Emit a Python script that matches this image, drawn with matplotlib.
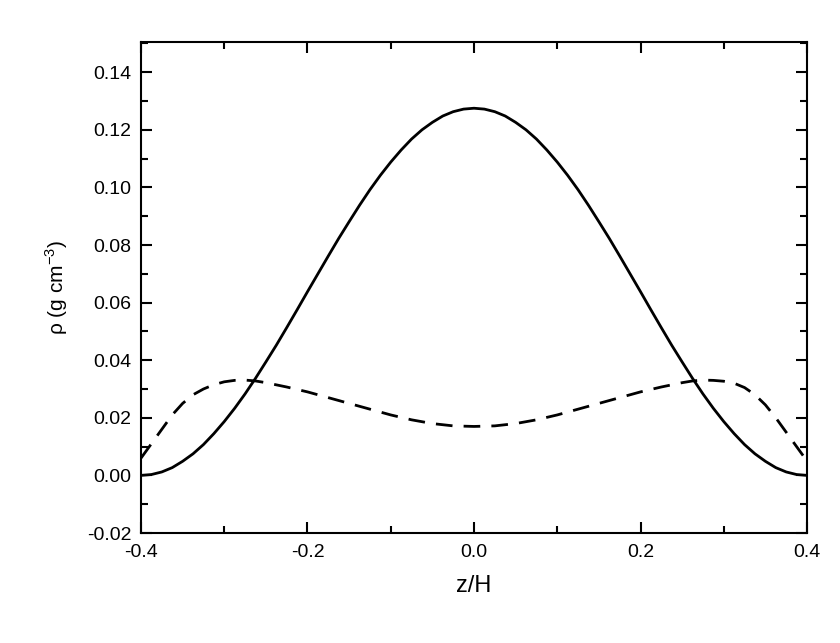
import matplotlib
matplotlib.use("Agg")
import matplotlib.pyplot as plt
from matplotlib.ticker import MultipleLocator

plt.rcParams['font.family'] = ['Liberation Sans', 'DejaVu Sans']

z_solid = [-0.4, -0.3875, -0.375, -0.3625, -0.35, -0.3375, -0.325, -0.3125, -0.3, -0.2875, -0.275, -0.2625,
           -0.25, -0.2375, -0.225, -0.2125, -0.2, -0.1875, -0.175, -0.1625, -0.15, -0.1375, -0.125, -0.1125,
           -0.1, -0.0875, -0.075, -0.0625, -0.05, -0.0375, -0.025, -0.0125,
           0.0, 0.0125, 0.025, 0.0375, 0.05, 0.0625, 0.075, 0.0875, 0.1, 0.1125, 0.125, 0.1375,
           0.15, 0.1625, 0.175, 0.1875, 0.2, 0.2125, 0.225, 0.2375, 0.25, 0.2625, 0.275, 0.2875,
           0.3, 0.3125, 0.325, 0.3375, 0.35, 0.3625, 0.375, 0.3875, 0.4]
rho_solid = [0.0000, 0.0003, 0.0012, 0.0027, 0.0049, 0.0075, 0.0107, 0.0145, 0.0187, 0.0233, 0.0283, 0.0337,
             0.0394, 0.0452, 0.0513, 0.0575, 0.0638, 0.0700, 0.0762, 0.0823, 0.0881, 0.0938, 0.0992, 0.1042,
             0.1088, 0.1130, 0.1168, 0.1200, 0.1226, 0.1248, 0.1263, 0.1272,
             0.1275, 0.1272, 0.1263, 0.1248, 0.1226, 0.1200, 0.1168, 0.1130, 0.1088, 0.1042, 0.0992, 0.0938,
             0.0881, 0.0823, 0.0762, 0.0700, 0.0638, 0.0575, 0.0513, 0.0452, 0.0394, 0.0337, 0.0283, 0.0233,
             0.0187, 0.0145, 0.0107, 0.0075, 0.0049, 0.0027, 0.0012, 0.0003, 0.0000]
z_dash = [-0.4, -0.3875, -0.375, -0.3625, -0.35, -0.3375, -0.325, -0.3125, -0.3, -0.2875, -0.275, -0.2625,
          -0.25, -0.225, -0.2, -0.175, -0.15, -0.125, -0.1, -0.075, -0.05, -0.025,
          0.0, 0.025, 0.05, 0.075, 0.1, 0.125, 0.15, 0.175, 0.2, 0.225, 0.25,
          0.2625, 0.275, 0.2875, 0.3, 0.3125, 0.325, 0.3375, 0.35, 0.3625, 0.375, 0.3875, 0.4]
rho_dash = [0.0060, 0.0110, 0.0160, 0.0210, 0.0250, 0.0280, 0.0300, 0.0315, 0.0325, 0.0330, 0.0331, 0.0328,
            0.0322, 0.0307, 0.0290, 0.0270, 0.0250, 0.0230, 0.0210, 0.0193, 0.0180, 0.0172,
            0.0170, 0.0172, 0.0180, 0.0193, 0.0210, 0.0230, 0.0250, 0.0270, 0.0290, 0.0307, 0.0322,
            0.0328, 0.0331, 0.0330, 0.0327, 0.0320, 0.0305, 0.0280, 0.0245, 0.0200, 0.0150, 0.0100, 0.0050]

fig = plt.figure(figsize=(8.4, 6.43), dpi=100)
ax = fig.add_axes([141/840, 1-533/643, 666/840, 491/643])
ax.plot(z_solid, rho_solid, color='black', lw=2)
ax.plot(z_dash, rho_dash, color='black', lw=2, dashes=(6, 4))
ax.set_xlim(-0.4, 0.4)
ax.set_ylim(-0.02, 0.1505)
ax.xaxis.set_minor_locator(MultipleLocator(0.1))
ax.yaxis.set_minor_locator(MultipleLocator(0.01))
ax.set_xticks([-0.4, -0.2, 0.0, 0.2, 0.4])
ax.set_xticklabels(['-0.4', '-0.2', '0.0', '0.2', '0.4'])
ax.set_yticks([-0.02, 0.0, 0.02, 0.04, 0.06, 0.08, 0.10, 0.12, 0.14])
ax.set_yticklabels(['-0.02', '0.00', '0.02', '0.04', '0.06', '0.08', '0.10', '0.12', '0.14'])
ax.tick_params(which='both', direction='in', top=True, right=True, labelsize=14, width=1.5)
ax.tick_params(which='major', length=8)
ax.tick_params(which='minor', length=5)
ax.tick_params(axis='x', pad=8)
ax.tick_params(axis='y', pad=7)
for s in ax.spines.values():
    s.set_linewidth(1.5)
ax.set_xlabel('z/H', fontsize=17, labelpad=10)
ax.set_ylabel('\u03c1 (g cm$^{\\mathregular{-3}}$)', fontsize=15, labelpad=12)
fig.savefig('out.png', dpi=100, facecolor='white')
